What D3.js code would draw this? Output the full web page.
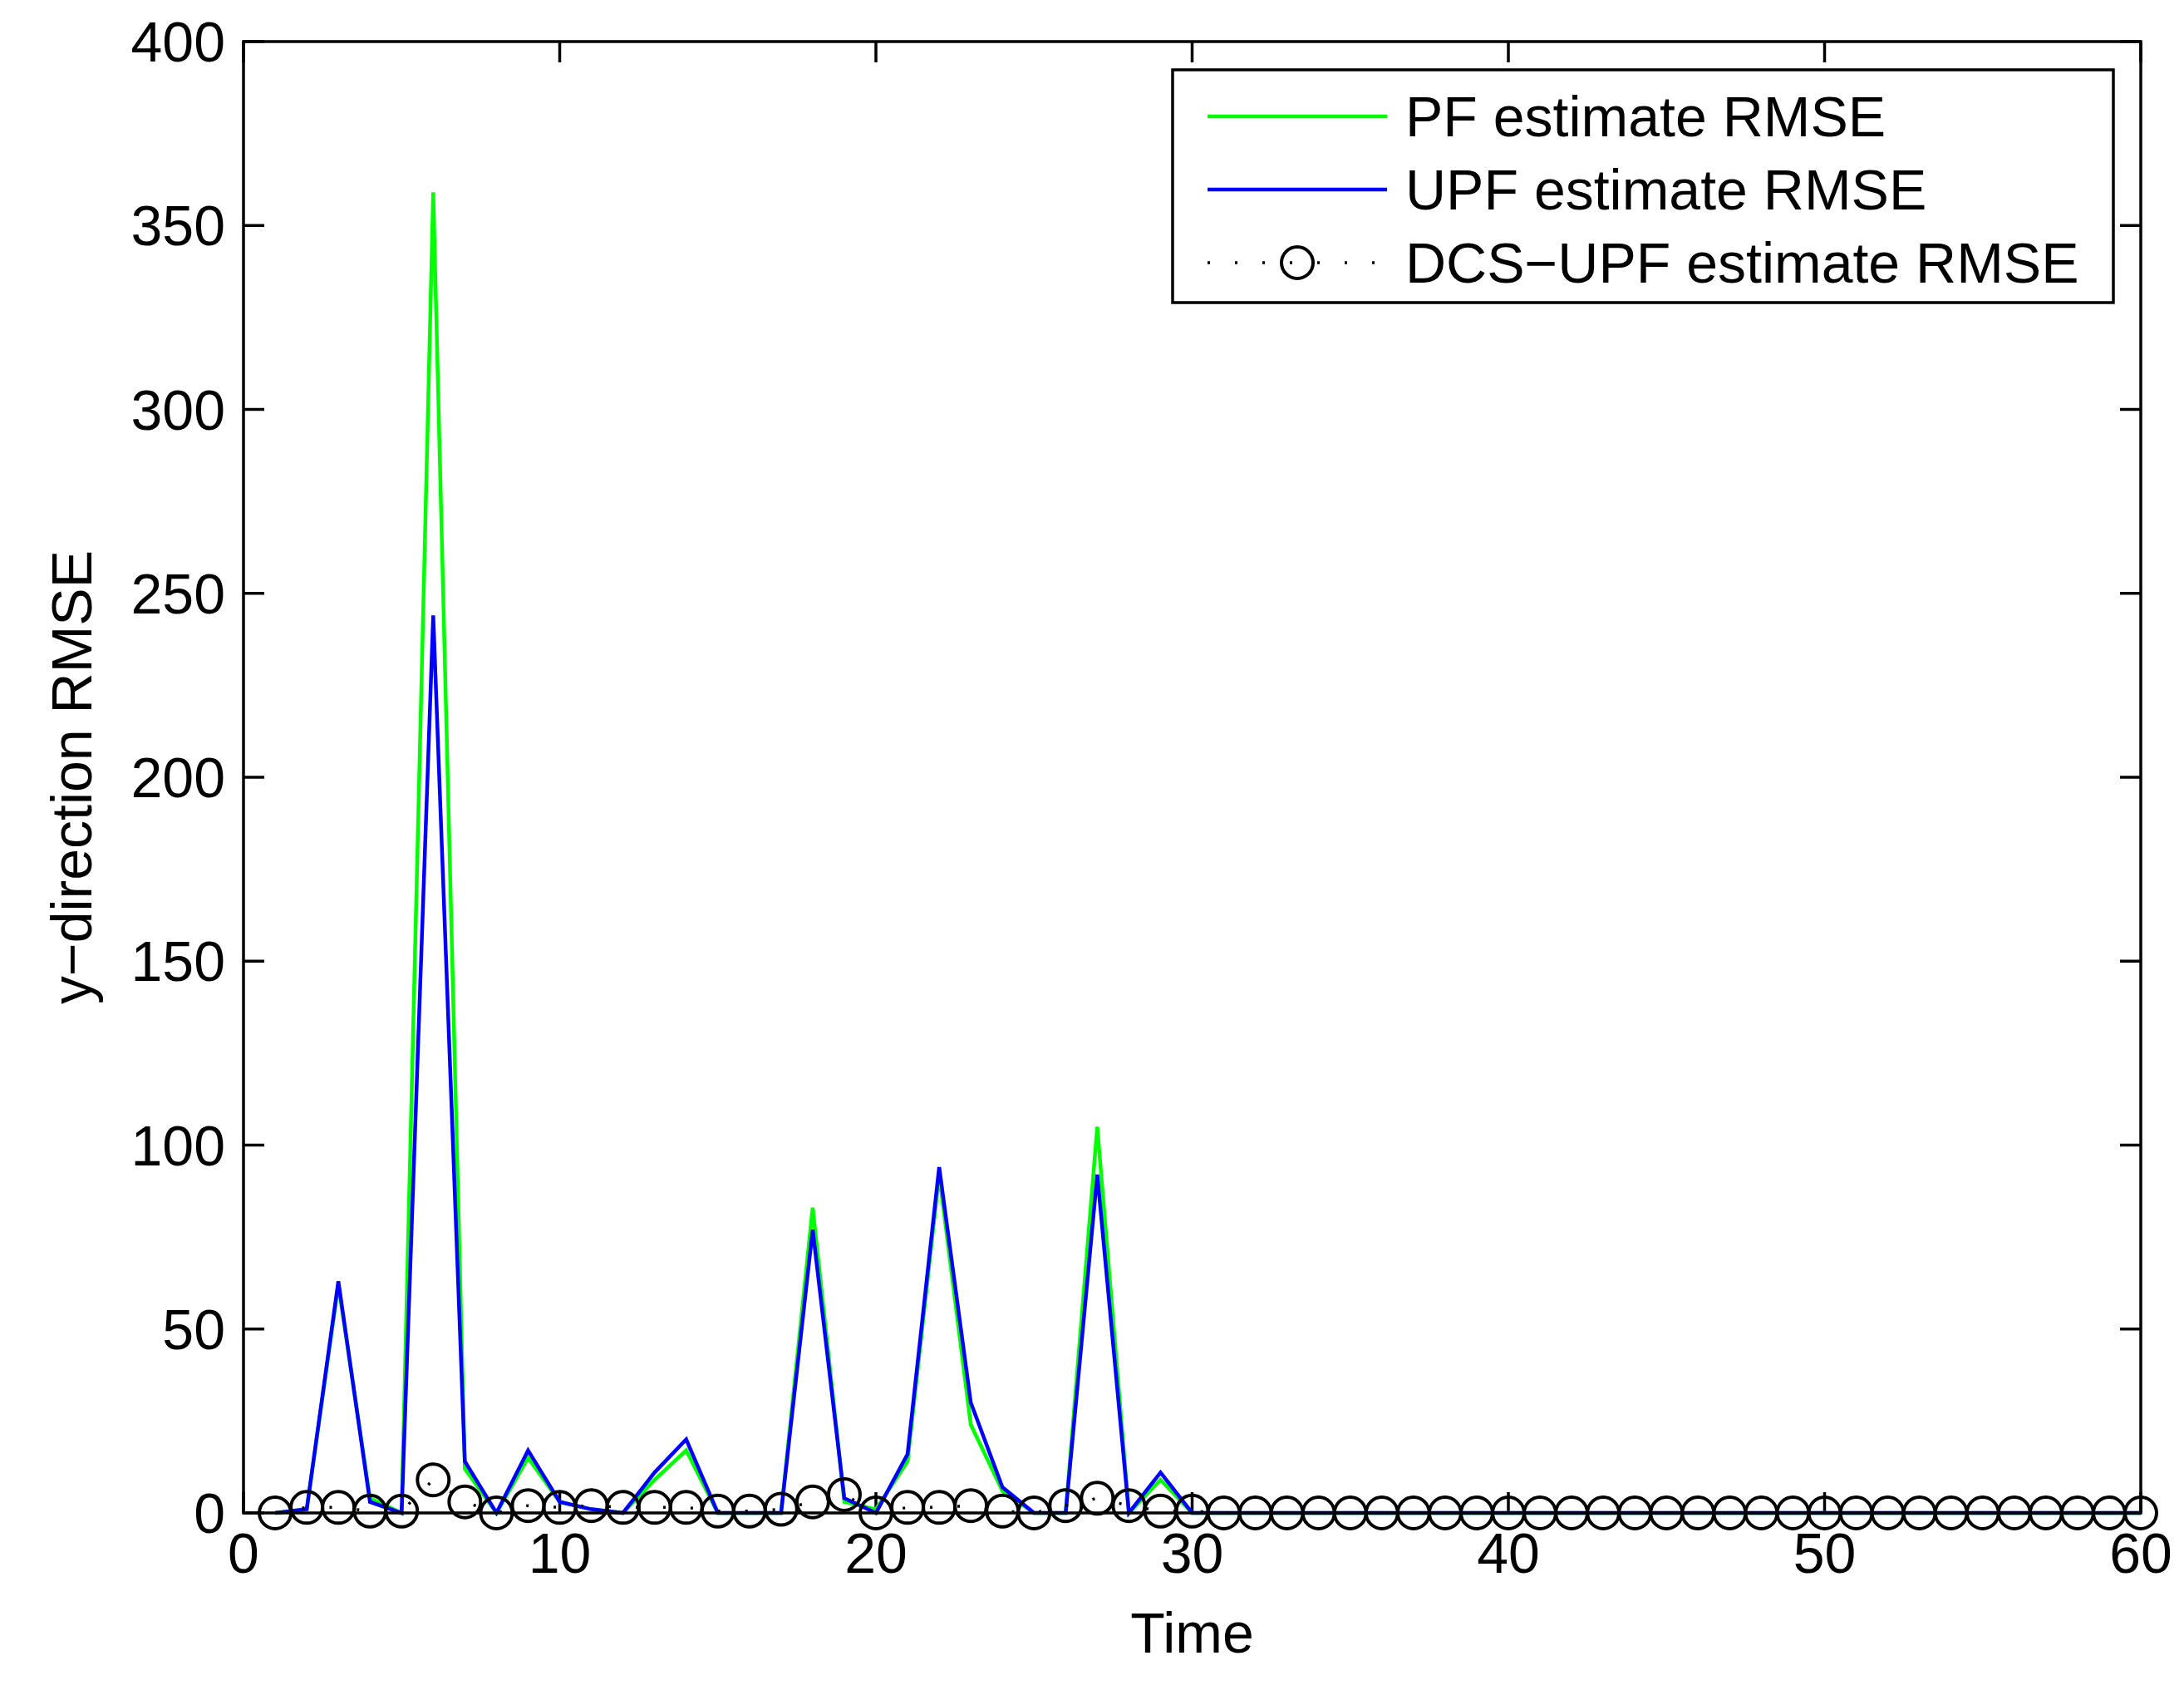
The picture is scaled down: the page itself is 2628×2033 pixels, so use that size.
<!DOCTYPE html><html><head><meta charset="utf-8"><script src="https://cdn.jsdelivr.net/npm/d3@7/dist/d3.min.js"></script>
<style>body{margin:0;background:#fff}text{font-family:"Liberation Sans",Arial,sans-serif}</style></head><body><svg id="c" width="2628" height="2033"></svg>
<script>
const time = d3.range(1,61);
const pf  = [0,1,62,4,0,359,12,0,15,3,1,0,9,17,0,0,0,83,3,1,14,92,24,6,0,0,105,0,9,0].concat(Array(30).fill(0));
const upf = [0,1,63,3,0,244,14,0,17,3,1,0,11,20,0,0,0,77,4,0,16,94,30,7,0,0,92,0,11,0].concat(Array(30).fill(0));
const dcs = [0,1.5,1.5,0.5,0.5,9,3,0,2,1.5,2,1.5,1.5,1.5,0.5,0.5,1,3,5,0,1.5,1.5,2,0.5,0,2,4,2,0.5,0.5].concat(Array(30).fill(0));
const xTicks = [0,10,20,30,40,50,60];
const yTicks = [0,50,100,150,200,250,300,350,400];
const names = ["PF estimate RMSE","UPF estimate RMSE","DCS\u2212UPF estimate RMSE"];

const L=293,R=2576,T=50,B=1820;
const svg=d3.select("#c");
const x=d3.scaleLinear().domain([0,60]).range([L,R]);
const y=d3.scaleLinear().domain([0,400]).range([B,T]);
const fs=68, tl=25;
const g=svg.append("g");
const ax=g.append("g").attr("stroke","#000").attr("stroke-width",3.5);
xTicks.forEach(v=>{ax.append("line").attr("x1",x(v)).attr("x2",x(v)).attr("y1",B).attr("y2",B-tl);
 ax.append("line").attr("x1",x(v)).attr("x2",x(v)).attr("y1",T).attr("y2",T+tl);});
yTicks.forEach(v=>{ax.append("line").attr("y1",y(v)).attr("y2",y(v)).attr("x1",L).attr("x2",L+tl);
 ax.append("line").attr("y1",y(v)).attr("y2",y(v)).attr("x1",R).attr("x2",R-tl);});
xTicks.forEach(v=>g.append("text").attr("x",x(v)).attr("y",B+72).attr("text-anchor","middle").attr("font-size",fs).text(v));
yTicks.forEach(v=>g.append("text").attr("x",L-22).attr("y",y(v)+24).attr("text-anchor","end").attr("font-size",fs).text(v));
g.append("text").attr("x",(L+R)/2).attr("y",1988).attr("text-anchor","middle").attr("font-size",fs).text("Time");
g.append("text").attr("transform",`translate(110,${(T+B)/2}) rotate(-90)`).attr("text-anchor","middle").attr("font-size",fs).text("y\u2212direction RMSE");

const line=d3.line().x((d,i)=>x(time[i])).y(d=>y(d));
g.append("path").datum(pf).attr("d",line).attr("fill","none").attr("stroke","#00ff00").attr("stroke-width",4.5);
g.append("path").datum(upf).attr("d",line).attr("fill","none").attr("stroke","#0000ff").attr("stroke-width",4.5);
g.append("path").datum(dcs).attr("d",line).attr("fill","none").attr("stroke","#000").attr("stroke-width",3.5).attr("stroke-dasharray","3,30");
g.selectAll(".c").data(dcs).enter().append("circle").attr("cx",(d,i)=>x(time[i])).attr("cy",d=>y(d)).attr("r",19).attr("fill","none").attr("stroke","#000").attr("stroke-width",4);
g.append("rect").attr("x",L).attr("y",T).attr("width",R-L).attr("height",B-T).attr("fill","none").attr("stroke","#000").attr("stroke-width",3.5);

const lx=1411,ly=84,lw=1132,lh=280;
g.append("rect").attr("x",lx).attr("y",ly).attr("width",lw).attr("height",lh).attr("fill","#fff").attr("stroke","#000").attr("stroke-width",3.5);
const cols=["#00ff00","#0000ff","#000"];
names.forEach((n,i)=>{const yy=ly+56+i*88;
 const ln=g.append("line").attr("x1",lx+42).attr("x2",lx+258).attr("y1",yy).attr("y2",yy).attr("stroke",cols[i]).attr("stroke-width",4.5);
 if(i==2){ln.attr("stroke-dasharray","3,30").attr("stroke-width",3.5);g.append("circle").attr("cx",lx+150).attr("cy",yy).attr("r",19).attr("fill","none").attr("stroke","#000").attr("stroke-width",4);}
 g.append("text").attr("x",lx+280).attr("y",yy+24).attr("font-size",fs).text(n);});
</script></body></html>
